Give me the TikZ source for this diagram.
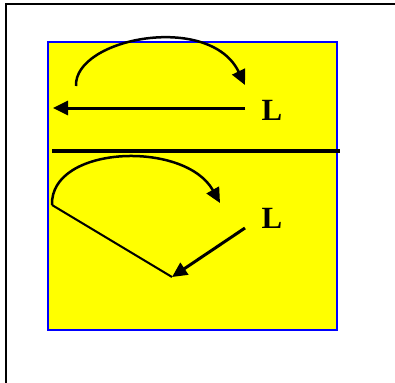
\documentclass[tikz,border=0pt]{standalone}
\usepackage{fontspec}
\setmainfont{Liberation Serif}
\usetikzlibrary{arrows.meta}
\definecolor{panelyellow}{RGB}{255,255,0}
\definecolor{panelblue}{RGB}{0,0,255}
\begin{document}
\begin{tikzpicture}[x=1bp,y=-1bp,
  arr/.style={line width=3bp,-{Triangle[length=15bp,width=14bp]}},
  curv/.style={line width=2.5bp,-{Triangle[length=15bp,width=14bp]}},
  lbl/.style={font=\fontsize{31}{31}\selectfont\bfseries,inner sep=0pt}]
\useasboundingbox (0,0) rectangle (395,383);
% outer frame
\coordinate (fa) at (6,383);
\coordinate (fb) at (6,4);
\coordinate (fc) at (395,4);
\draw[line width=2.5bp] (fa) -- (fb) -- (fc);
% yellow panel
\node[draw=panelblue,fill=panelyellow,line width=2bp,minimum width=289bp,minimum height=288bp,inner sep=0pt] (panel) at (192.5,186) {};
% top part
\coordinate (t1) at (76,86);
\coordinate (t2) at (245,85);
\coordinate (h1) at (245,108);
\coordinate (h2) at (53,108);
\draw[curv] (t1) .. controls (74,38) and (210,12) .. (t2);
\draw[arr] (h1) -- (h2);
\node[lbl] (L1) at (272,110) {L};
% divider
\coordinate (d1) at (52,151);
\coordinate (d2) at (340,151);
\draw[line width=4bp] (d1) -- (d2);
% bottom part
\coordinate (b1) at (52,205);
\coordinate (b2) at (220,203);
\coordinate (b3) at (172,277);
\coordinate (b4) at (245,228);
\draw[curv] (b1) .. controls (50,145) and (185,140) .. (b2);
\draw[line width=2bp] (b1) -- (b3);
\draw[arr] (b4) -- (b3);
\node[lbl] (L2) at (272,218) {L};
\end{tikzpicture}
\end{document}
